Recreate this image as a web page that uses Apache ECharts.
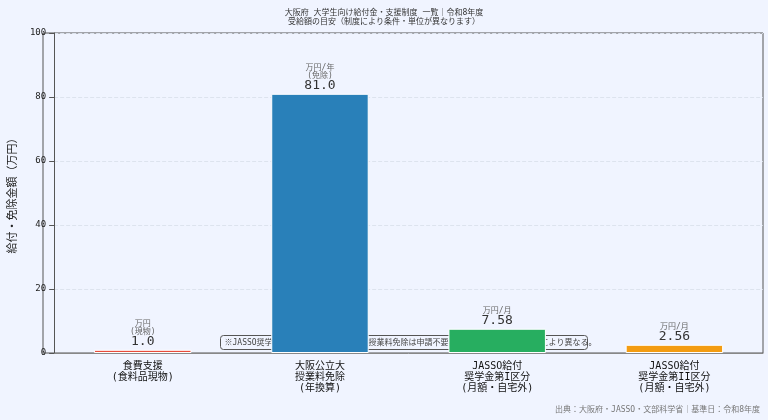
<!DOCTYPE html><html><head><meta charset="utf-8">
<script src="https://cdn.jsdelivr.net/npm/echarts@6/dist/echarts.min.js"></script>
<style>body{margin:0;background:#f0f4ff}#c{width:768px;height:420px}</style></head><body><div id="c"></div>
<script>
const categories=['食費支援\n(食料品現物)','大阪公立大\n授業料免除\n(年換算)','JASSO給付\n奨学金第I区分\n(月額・自宅外)','JASSO給付\n奨学金第II区分\n(月額・自宅外)'];
const values=[1.0,81.0,7.58,2.56];
const valueText=['1.0','81.0','7.58','2.56'];
const units=['万円\n(現物)','万円/年\n(免除)','万円/月','万円/月'];
const colors=['#e74c3c','#2980b9','#27ae60','#f39c12'];
const F='"DejaVu Sans Mono","Noto Sans CJK JP",monospace';
const chart=echarts.init(document.getElementById('c'));
chart.setOption({
backgroundColor:'#f0f4ff',textStyle:{fontFamily:F},
title:{text:'大阪府 大学生向け給付金・支援制度 一覧｜令和8年度\n受給額の目安（制度により条件・単位が異なります）',left:'center',top:3,textStyle:{fontSize:8,fontWeight:'normal',color:'#333',lineHeight:9,fontFamily:F}},
grid:{left:43,right:5,top:33,bottom:67},
xAxis:{type:'category',data:categories,axisLine:{lineStyle:{color:'#888'}},axisTick:{alignWithLabel:true,lineStyle:{color:'#555'}},axisLabel:{color:'#111',fontSize:10,lineHeight:11,fontFamily:F,interval:0}},
yAxis:{type:'value',min:0,max:100,interval:20,name:'給付・免除金額（万円）',nameLocation:'middle',nameGap:28,nameTextStyle:{fontSize:11,color:'#222',fontFamily:F},axisLine:{show:true,lineStyle:{color:'#555'}},axisTick:{show:true},axisLabel:{fontSize:9,color:'#222'},splitLine:{lineStyle:{color:'#dde3ee',type:'dashed'}}},
series:[{type:'bar',barWidth:'55%',data:values.map((v,i)=>({value:v,itemStyle:{color:colors[i],borderColor:'#fff',borderWidth:1}})),
label:{show:true,position:'top',distance:2,formatter:p=>'{u|'+units[p.dataIndex].replace('\n','}\n{u|')+'}\n{v|'+valueText[p.dataIndex]+'}',rich:{u:{fontSize:8,color:'#666',lineHeight:8,fontFamily:F},v:{fontSize:13,color:'#333',lineHeight:12,fontFamily:F}}}}],
graphic:[{type:'group',left:220,top:335,children:[{type:'rect',shape:{width:367,height:14,r:3},style:{fill:'rgba(240,244,255,0.9)',stroke:'#555',lineWidth:1}},{type:'text',left:4,top:3,style:{text:'※JASSO奨学金は返済不要。大阪公立大授業料免除は申請不要（自動適用）。単位・制度により異なる。',fontSize:8,fill:'#444',fontFamily:F}}]},
{type:'text',right:8,bottom:6,style:{text:'出典：大阪府・JASSO・文部科学省｜基準日：令和8年度',fontSize:8,fill:'#777',fontFamily:F}},
{type:'rect',shape:{x:43,y:33,width:720,height:320},style:{fill:'none',stroke:'#555',lineWidth:1},silent:true}]
});
</script></body></html>
